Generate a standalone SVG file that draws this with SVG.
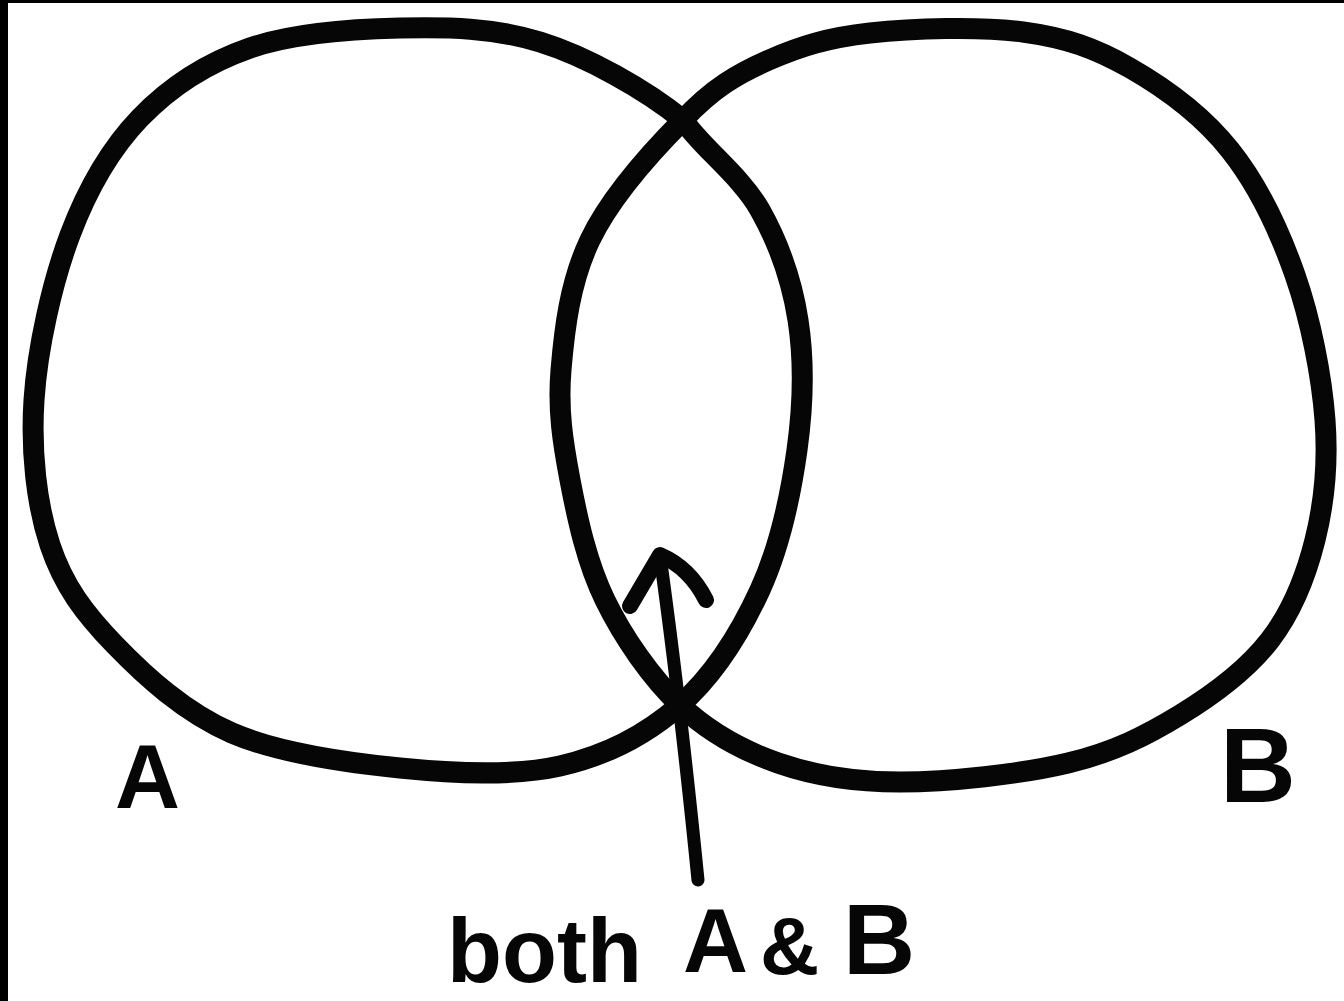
<svg xmlns="http://www.w3.org/2000/svg" width="1344" height="1001" viewBox="0 0 1344 1001">
<style>
.ring{fill:none;stroke:#060606;stroke-width:21;stroke-linejoin:round;stroke-linecap:round}
.arrow{fill:none;stroke:#060606;stroke-width:13;stroke-linecap:round;stroke-linejoin:round}
.lbl{font-family:"Liberation Sans",Arial,sans-serif;font-weight:bold;fill:#060606}
</style>
<rect x="0" y="0" width="1344" height="1001" fill="#ffffff"/>
<rect x="0" y="0" width="1344" height="3" fill="#000"/>
<rect x="0" y="0" width="8" height="1001" fill="#000"/>
<g id="circleA">
<path class="ring" d="M683,120 C646.3,90 587.2,56.5 540,42 C492.8,27.5 448.3,27 400,28 C351.7,29 293.3,33 250,48 C206.7,63 170,86.8 140,118 C110,149.2 87.7,188 70,235 C52.3,282 37.3,348.3 34,400 C30.7,451.7 36.5,504.2 50,545 C63.5,585.8 84.7,613.7 115,645 C145.3,676.3 184.5,712.5 232,733 C279.5,753.5 345.3,762.5 400,768 C454.7,773.5 513.3,776.5 560,766 C606.7,755.5 646.7,734.3 680,705 C713.3,675.7 740.5,632.5 760,590 C779.5,547.5 790.7,495 797,450 C803.3,405 804.2,360 798,320 C791.8,280 779.2,244.2 760,210 C740.8,175.8 702.2,148 683,120 Z"/>
<text class="lbl" x="115" y="808" font-size="90">A</text>
</g>
<g id="circleB">
<path class="ring" d="M683,120 C712.8,88 737.8,73.7 769,60 C800.2,46.3 827.7,37.7 870,33 C912.3,28.3 979.7,26.2 1023,32 C1066.3,37.8 1095.5,48.3 1130,68 C1164.5,87.7 1202.5,115.5 1230,150 C1257.5,184.5 1279.2,230 1295,275 C1310.8,320 1321.7,375.8 1325,420 C1328.3,464.2 1324.2,503.3 1315,540 C1305.8,576.7 1292.5,610.8 1270,640 C1247.5,669.2 1213.7,694.5 1180,715 C1146.3,735.5 1114.7,751.8 1068,763 C1021.3,774.2 948.3,782 900,782 C851.7,782 814.7,775.8 778,763 C741.3,750.2 708.8,732.2 680,705 C651.2,677.8 623.3,637.5 605,600 C586.7,562.5 577.3,518.3 570,480 C562.7,441.7 557.7,410 561,370 C564.3,330 569.7,282.5 590,240 C610.3,197.5 653.2,150 683,120 Z"/>
<text class="lbl" x="1220" y="802" font-size="105">B</text>
</g>
<g id="connectors">
<path class="arrow" d="M660,556 Q680,700 698,880"/>
<path class="arrow" style="stroke-width:16" d="M630,606 L660,555 Q690,568 706,600"/>
</g>
<g id="label-both">
<text class="lbl" y="982" font-size="90"><tspan x="447">both</tspan><tspan x="683" y="972">A</tspan><tspan x="760" y="974" font-size="82">&amp;</tspan><tspan x="843" y="974" font-size="100">B</tspan></text>
</g>
</svg>
